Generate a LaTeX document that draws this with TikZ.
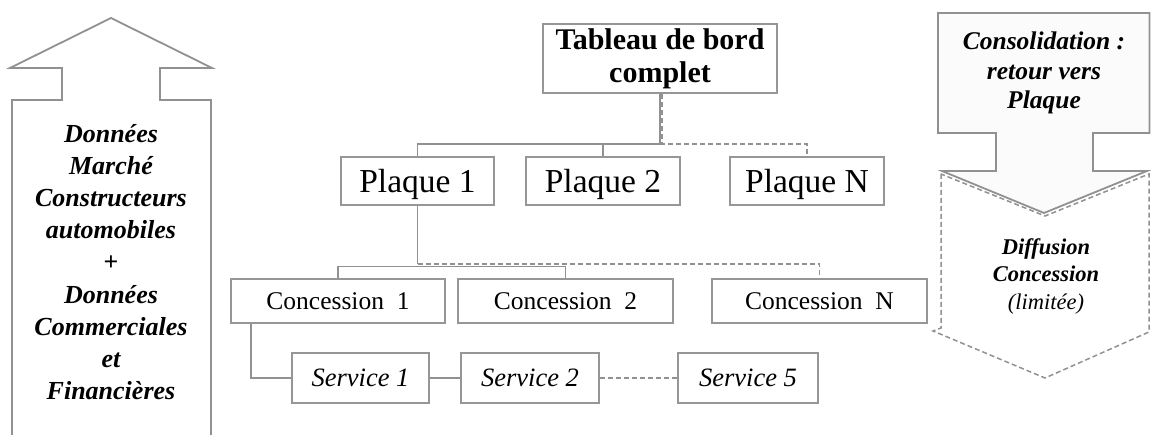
\documentclass[tikz,border=0pt]{standalone}
\usepackage{fontspec}
\setmainfont{Liberation Serif}
\definecolor{boxgray}{RGB}{150,150,150}
\definecolor{linegray}{RGB}{145,145,145}
\definecolor{fillgray}{RGB}{251,251,251}
\tikzset{
  box/.style={draw=boxgray, line width=2.6pt, inner sep=0pt, fill=white, align=center},
  plaquebox/.style={box, minimum height=48pt, text height=26.8pt, text depth=4.7pt, font=\fontsize{33.5}{36}\selectfont},
  concbox/.style={box, minimum height=44pt, minimum width=215pt, text height=20.4pt, text depth=3.6pt, font=\fontsize{25.5}{28}\selectfont},
  servbox/.style={box, minimum height=50pt, text height=21.2pt, text depth=3.7pt, font=\itshape\fontsize{26.5}{28}\selectfont},
  conn/.style={draw=linegray, line width=1.8pt},
  dconn/.style={draw=linegray, line width=1.5pt, dash pattern=on 5pt off 3pt},
  bigarrow/.style={draw=linegray, line width=1.8pt, line join=miter},
}
\begin{document}
\begin{tikzpicture}[x=1pt,y=-1pt]
\useasboundingbox (0,0) rectangle (1151,435);
% left upward arrow
\draw[bigarrow] (12,436) -- (12,100) -- (62,100) -- (62,68) -- (10,68) -- (111,18) -- (212,68) -- (160,68) -- (160,100) -- (211,100) -- (211,436);
\node[align=center, font=\bfseries\itshape\fontsize{26}{32.2}\selectfont] (leftt) at (111,262)
 {Données\\Marché\\Constructeurs\\automobiles\\{\upshape +}\\Données\\Commerciales\\et\\Financières};
% right arrows
\draw[bigarrow, fill=fillgray] (938,13) -- (1149.5,13) -- (1149.5,133) -- (1093,133) -- (1093,171) -- (1147,171) -- (1044,213) -- (942,171) -- (996,171) -- (996,133) -- (938,133) -- cycle;
\draw[dconn] (941,174) -- (941,328) -- (933,331) -- (1045,378) -- (1149,332) -- (1149,174) -- (1045,216) -- cycle;
\node[align=center, font=\bfseries\itshape\fontsize{25.5}{29.5}\selectfont] (cons) at (1044,73)
 {Consolidation :\\retour vers\\Plaque};
\node[align=center, font=\bfseries\itshape\fontsize{22.5}{27.5}\selectfont] (diff) at (1046,276)
 {Diffusion\\Concession\\{\mdseries (limitée)}};
% hierarchy
\node[box, minimum width=234pt, minimum height=69pt, font=\bfseries\fontsize{30}{33}\selectfont] (tab) at (660,58.5) {Tableau de bord\\complet};
\node[plaquebox, minimum width=153pt] (p1) at (417.5,181) {Plaque 1};
\node[plaquebox, minimum width=154pt] (p2) at (603,181) {Plaque 2};
\node[plaquebox, minimum width=154pt] (pN) at (807,181) {Plaque N};
\node[concbox, minimum width=214pt] (c1) at (338,301) {Concession~~1};
\node[concbox] (c2) at (565.5,301) {Concession~~2};
\node[concbox] (cN) at (819.5,301) {Concession~~N};
\node[servbox, minimum width=137pt] (s1) at (360.5,378) {Service 1};
\node[servbox, minimum width=138pt] (s2) at (530,378) {Service 2};
\node[servbox, minimum width=140pt] (s5) at (748,378) {Service 5};
% connectors
\coordinate (bus1) at (0,144);
\coordinate (bus2) at (0,266.5);
\coordinate (bus2d) at (0,264);
\draw[conn] (tab.south) -- (tab.south |- bus1) -| (p1.north);
\draw[conn] (p2.north) -- (p2.north |- bus1);
\draw[dconn] ([xshift=2pt]tab.south) -- ([xshift=2pt]tab.south |- bus1) -| (pN.north);
\draw[conn] (p1.south) -- (p1.south |- bus2d);
\draw[conn] (c1.north) -- (c1.north |- bus2) -- (c2.north |- bus2) -- (c2.north);
\draw[dconn] (p1.south |- bus2d) -| (cN.north);
\draw[conn] ([xshift=21pt]c1.south west) |- (s1.west);
\draw[conn] (s1.east) -- (s2.west);
\draw[dconn] (s2.east) -- (s5.west);
\end{tikzpicture}
\end{document}
